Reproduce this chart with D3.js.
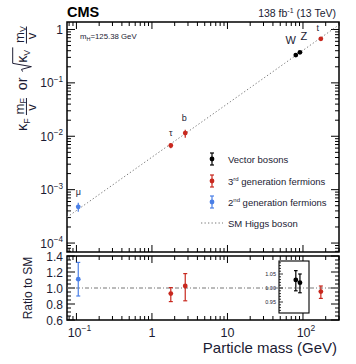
<!DOCTYPE html>
<html><head><meta charset="utf-8">
<script src="https://cdn.jsdelivr.net/npm/d3@7"></script>
<style>body{margin:0;background:#fff}svg{display:block;font-family:"Liberation Sans",Arial,sans-serif}</style>
</head><body><svg id="c" width="356" height="364"></svg>
<script>
// ---- data ----
const vev = 246.22;
const particles = ["μ", "τ", "b", "W", "Z", "t"];
const masses = [0.1057, 1.777, 2.76, 80.4, 91.19, 172.5];
const groups = ["2nd", "3rd", "3rd", "V", "V", "3rd"];
const kappas = [1.11, 0.93, 1.025, 1.029, 1.019, 0.955];
const errUp = [0.21, 0.075, 0.155, 0.033, 0.031, 0.07];
const errDn = [0.21, 0.10, 0.185, 0.039, 0.036, 0.085];
const xTickVals = [0.1, 1, 10, 100];
const xTickLabels = [["10", "−1"], ["1", ""], ["10", ""], ["10", "2"]];
const yTickVals = [1, 0.1, 0.01, 0.001, 0.0001];
const yTickLabels = [["1", ""], ["10", "−1"], ["10", "−2"], ["10", "−3"], ["10", "−4"]];
const ratioTicks = [0.6, 0.8, 1.0, 1.2, 1.4];
const insetTicks = [0.95, 1.00, 1.05];
const legendLabels = [["Vector bosons", ""], ["3", "rd", " generation fermions"], ["2", "nd", " generation fermions"], ["SM Higgs boson"]];
const colors = {V: "#000000", "3rd": "#c8281e", "2nd": "#4a7fe6"};

const svg = d3.select("#c");
const L = 67, R = 339, T = 22, B = 252, RT = 256, RB = 320;
const x = d3.scaleLog().domain([0.075, 300]).range([L, R]);
const y = d3.scaleLog().domain([6.8e-5, 1.38]).range([B, T]);
const yr = d3.scaleLinear().domain([0.6, 1.4]).range([RB, RT]);
const yi = d3.scaleLinear().domain([0.95, 1.05]).range([302, 274]);
const txt = "#1b1b33";

// main value
const mainVal = i => groups[i] === "V" ? Math.sqrt(kappas[i]) * masses[i] / vev : kappas[i] * masses[i] / vev;
const mainUp = i => groups[i] === "V" ? Math.sqrt(kappas[i] + errUp[i]) * masses[i] / vev : (kappas[i] + errUp[i]) * masses[i] / vev;
const mainDn = i => groups[i] === "V" ? Math.sqrt(kappas[i] - errDn[i]) * masses[i] / vev : (kappas[i] - errDn[i]) * masses[i] / vev;

// minor tick helpers
function logMinor(lo, hi) {
  const out = [];
  for (let e = -6; e <= 4; e++) for (let k = 1; k <= 9; k++) {
    const v = k * Math.pow(10, e);
    if (v >= lo && v <= hi) out.push({v, major: k === 1});
  }
  return out;
}
const xt = logMinor(0.075, 300);
const yt = logMinor(6.8e-5, 1.38);

const ax = svg.append("g").attr("stroke", "#000").attr("stroke-width", 1);
function vtick(xp, y0, len) { ax.append("line").attr("x1", xp).attr("x2", xp).attr("y1", y0).attr("y2", y0 + len); }
function htick(yp, x0, len) { ax.append("line").attr("y1", yp).attr("y2", yp).attr("x1", x0).attr("x2", x0 + len); }

// main ticks
xt.forEach(t => { const p = x(t.v), l = t.major ? 7 : 4; vtick(p, T, l); vtick(p, B, -l); vtick(p, RT, l); vtick(p, RB, -l); });
yt.forEach(t => { const p = y(t.v), l = t.major ? 8 : 4; htick(p, L, l); htick(p, R, -l); });
d3.range(0.6, 1.401, 0.05).forEach(v => {
  const major = Math.abs(v * 5 - Math.round(v * 5)) < 1e-6; const l = major ? 8 : 4;
  htick(yr(v), L, l); htick(yr(v), R, -l);
});

// frames
svg.append("rect").attr("x", L).attr("y", T).attr("width", R - L).attr("height", B - T).attr("fill", "none").attr("stroke", "#000").attr("stroke-width", 1.5);
svg.append("rect").attr("x", L).attr("y", RT).attr("width", R - L).attr("height", RB - RT).attr("fill", "none").attr("stroke", "#000").attr("stroke-width", 1.5);

// SM line main
svg.append("path").attr("d", d3.line()(d3.range(0, 41).map(k => { const m = 0.075 * Math.pow(4000, k / 40); return [x(m), y(m / vev)]; })))
  .attr("fill", "none").attr("stroke", "#777").attr("stroke-width", 1).attr("stroke-dasharray", "1.3,2.2");
// ratio line
svg.append("line").attr("x1", L).attr("x2", R).attr("y1", yr(1)).attr("y2", yr(1)).attr("stroke", "#777").attr("stroke-width", 1).attr("stroke-dasharray", "4,2,1,2");

// y tick labels main
function supLabel(g, xp, yp, pair, anchor, size) {
  const t = g.append("text").attr("x", xp).attr("y", yp).attr("text-anchor", anchor).attr("font-size", size).attr("fill", txt);
  t.append("tspan").text(pair[0]);
  if (pair[1]) t.append("tspan").attr("dy", -size * 0.45).attr("font-size", size * 0.68).text(pair[1]);
  return t;
}
yTickVals.forEach((v, i) => supLabel(svg, 63, y(v) + 4.5, yTickLabels[i], "end", 12));
xTickVals.forEach((v, i) => {
  const off = xTickLabels[i][1] ? 3 : 0;
  supLabel(svg, x(v) + off, 337, xTickLabels[i], "middle", 12.5);
});
ratioTicks.forEach(v => svg.append("text").attr("x", 63).attr("y", yr(v) + 4.5).attr("text-anchor", "end").attr("font-size", 12).attr("fill", txt).text(v.toFixed(1)));

// header
svg.append("text").attr("x", 67).attr("y", 17).attr("font-size", 14.5).attr("font-weight", "bold").attr("fill", "#000").text("CMS");
const hdr = svg.append("text").attr("x", 336).attr("y", 17).attr("text-anchor", "end").attr("font-size", 10.5).attr("fill", txt);
hdr.append("tspan").text("138 fb");
hdr.append("tspan").attr("dy", -4).attr("font-size", 7).text("-1");
hdr.append("tspan").attr("dy", 4).text(" (13 TeV)");
const mh = svg.append("text").attr("x", 80).attr("y", 39).attr("font-size", 7.8).attr("fill", txt);
mh.append("tspan").text("m");
mh.append("tspan").attr("dy", 2).attr("font-size", 5.5).text("H");
mh.append("tspan").attr("dy", -2).text("=125.38 GeV");

// axis titles
svg.append("text").attr("x", 337).attr("y", 353).attr("text-anchor", "end").attr("font-size", 15).attr("fill", txt).text("Particle mass (GeV)");
svg.append("text").attr("transform", "translate(32,288) rotate(-90)").attr("text-anchor", "middle").attr("font-size", 12).attr("fill", txt).text("Ratio to SM");

// y title (rotated composite)
const yg = svg.append("g").attr("transform", "translate(27,131) rotate(-90) scale(1.1)").attr("fill", txt);
function frac(g, x0, num, sub) {
  const n = g.append("text").attr("x", x0).attr("y", -3).attr("font-size", 12);
  n.append("tspan").text(num);
  n.append("tspan").attr("dy", 2.5).attr("font-size", 8).text(sub);
  g.append("line").attr("x1", x0 - 0.5).attr("x2", x0 + 15).attr("y1", -0.5).attr("y2", -0.5).attr("stroke", txt).attr("stroke-width", 0.9);
  g.append("text").attr("x", x0 + 3.5).attr("y", 8).attr("font-size", 12).text("v");
}
const k1 = yg.append("text").attr("x", 0).attr("y", 0).attr("font-size", 13);
k1.append("tspan").text("κ");
k1.append("tspan").attr("dy", 3).attr("font-size", 8).text("F");
frac(yg, 15, "m", "F");
yg.append("text").attr("x", 37).attr("y", 0).attr("font-size", 13).text("or");
// sqrt
yg.append("path").attr("d", "M54,-4 L56,-5 L58.5,4 L61.5,-13 L76,-13").attr("fill", "none").attr("stroke", txt).attr("stroke-width", 0.9);
const k2 = yg.append("text").attr("x", 62).attr("y", 0).attr("font-size", 13);
k2.append("tspan").text("κ");
k2.append("tspan").attr("dy", 3).attr("font-size", 8).text("V");
frac(yg, 80, "m", "V");

// points main
const idx = d3.range(particles.length);
const pm = svg.append("g");
idx.forEach(i => {
  const c = colors[groups[i]], xp = x(masses[i]);
  pm.append("line").attr("x1", xp).attr("x2", xp).attr("y1", y(mainUp(i))).attr("y2", y(mainDn(i))).attr("stroke", c).attr("stroke-width", 1.2);
  pm.append("circle").attr("cx", xp).attr("cy", y(mainVal(i))).attr("r", 2.4).attr("fill", c);
});
// particle labels
const labelPos = {"μ": [0, -12], "τ": [0, -10], "b": [-1, -12], "W": [-5, -11], "Z": [4, -12], "t": [-3, -8]};
idx.forEach(i => {
  const o = labelPos[particles[i]];
  svg.append("text").attr("x", x(masses[i]) + o[0]).attr("y", y(mainVal(i)) + o[1]).attr("text-anchor", "middle")
    .attr("font-size", particles[i] === "W" || particles[i] === "Z" ? 11 : 9).attr("fill", txt).text(particles[i]);
});

// ratio panel (non-vector)
const rp = svg.append("g");
function errBar(g, xp, yc, yu, yd, c, cap) {
  g.append("line").attr("x1", xp).attr("x2", xp).attr("y1", yu).attr("y2", yd).attr("stroke", c).attr("stroke-width", 1.2);
  g.append("line").attr("x1", xp - cap).attr("x2", xp + cap).attr("y1", yu).attr("y2", yu).attr("stroke", c).attr("stroke-width", 1.2);
  g.append("line").attr("x1", xp - cap).attr("x2", xp + cap).attr("y1", yd).attr("y2", yd).attr("stroke", c).attr("stroke-width", 1.2);
  g.append("circle").attr("cx", xp).attr("cy", yc).attr("r", 2.4).attr("fill", c);
}
idx.filter(i => groups[i] !== "V").forEach(i => {
  errBar(rp, x(masses[i]), yr(kappas[i]), yr(kappas[i] + errUp[i]), yr(kappas[i] - errDn[i]), colors[groups[i]], 2);
});

// inset
const ins = svg.append("g");
ins.append("rect").attr("x", 279).attr("y", 261).attr("width", 30).attr("height", 52).attr("fill", "#fff").attr("stroke", "#000").attr("stroke-width", 1.1);
ins.append("line").attr("x1", 279).attr("x2", 309).attr("y1", yi(1)).attr("y2", yi(1)).attr("stroke", "#777").attr("stroke-width", 1).attr("stroke-dasharray", "4,2,1,2");
d3.range(0.92, 1.091, 0.01).forEach(v => {
  const major = Math.abs(v * 20 - Math.round(v * 20)) < 1e-6;
  ins.append("line").attr("x1", 279).attr("x2", 279 + (major ? 4 : 2)).attr("y1", yi(v)).attr("y2", yi(v)).attr("stroke", "#000").attr("stroke-width", 0.8);
});
insetTicks.forEach(v => ins.append("text").attr("x", 276).attr("y", yi(v) + 2).attr("text-anchor", "end").attr("font-size", 5.5).attr("fill", txt).text(v.toFixed(2)));
idx.filter(i => groups[i] === "V").forEach(i => {
  errBar(ins, x(masses[i]), yi(kappas[i]), yi(kappas[i] + errUp[i]), yi(kappas[i] - errDn[i]), colors.V, 1.8);
});

// legend
const lg = svg.append("g");
const legY = [159, 181, 202, 223];
const legC = [colors.V, colors["3rd"], colors["2nd"]];
legC.forEach((c, i) => errBar(lg, 212, legY[i], legY[i] - 6, legY[i] + 6, c, 2));
lg.append("line").attr("x1", 201).attr("x2", 223).attr("y1", legY[3]).attr("y2", legY[3]).attr("stroke", "#777").attr("stroke-width", 1).attr("stroke-dasharray", "1.3,2.2");
legendLabels.forEach((lab, i) => {
  const t = lg.append("text").attr("x", 228).attr("y", legY[i] + 3.5).attr("font-size", 9.5).attr("fill", txt);
  if (lab.length === 3) {
    t.append("tspan").text(lab[0]);
    t.append("tspan").attr("dy", -4).attr("font-size", 6).text(lab[1]);
    t.append("tspan").attr("dy", 4).text(lab[2]);
  } else t.text(lab[0]);
});
</script></body></html>
